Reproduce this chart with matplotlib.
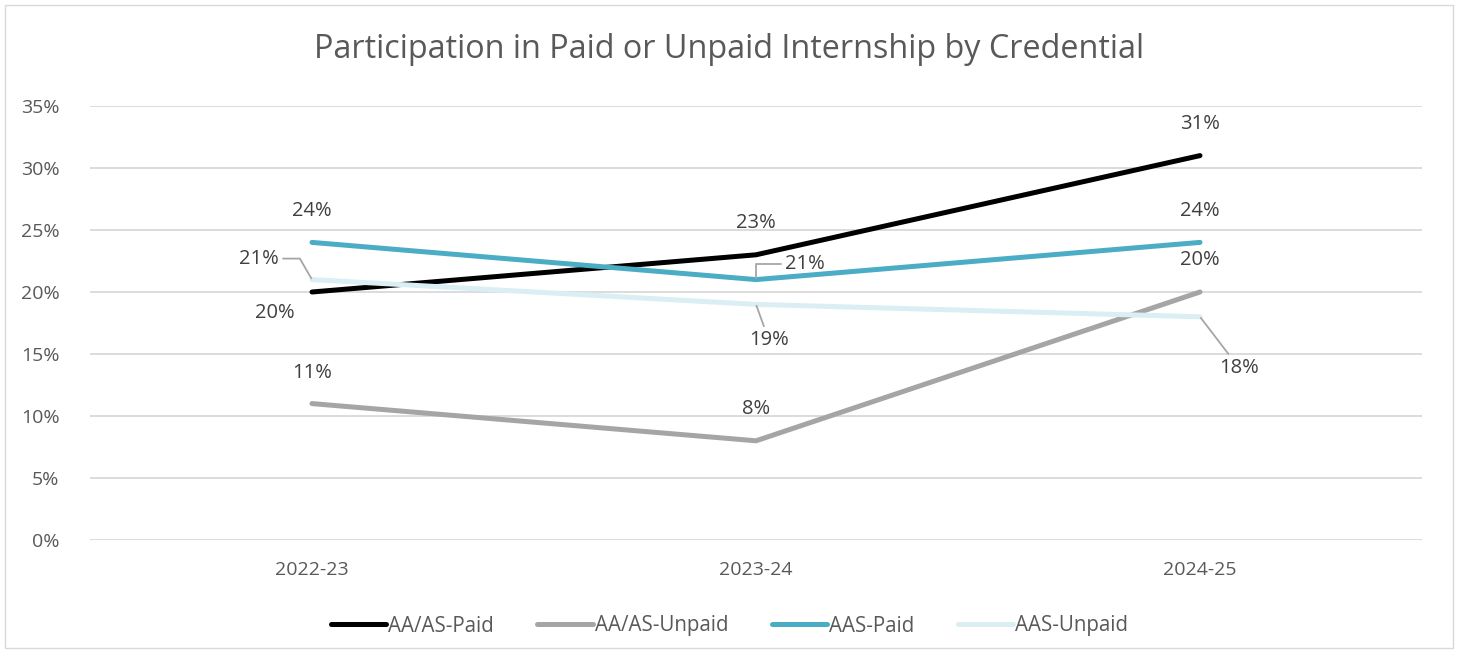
import matplotlib
matplotlib.use("Agg")
import matplotlib.pyplot as plt
import matplotlib.patches as mpatches
from matplotlib.ticker import MultipleLocator, FuncFormatter

# ── Data ─────────────────────────────────────────────────────────────────────
years = ["2022-23", "2023-24", "2024-25"]
aa_paid = [20, 23, 31]
aa_unpaid = [11, 8, 20]
aas_paid = [24, 21, 24]
aas_unpaid = [21, 19, 18]

series_names = ["AA/AS-Paid", "AA/AS-Unpaid", "AAS-Paid", "AAS-Unpaid"]
colors = ["#000000", "#A5A5A5", "#4BACC6", "#DAEEF3"]

# label offsets in pixels (dx, dy) and leader style per point
label_pos = {
    "AA/AS-Paid": [(-37, -21, None), (0, 32, None), (0, 32, None)],
    "AA/AS-Unpaid": [(0, 31, None), (0, 32, None), (0, 32, None)],
    "AAS-Paid": [(0, 31, None), (49, 16, "angle,angleA=0,angleB=90,rad=0"), (0, 31, None)],
    "AAS-Unpaid": [(-53, 21, "angle,angleA=0,angleB=120,rad=0"),
                   (13, -36, "arc3"), (39, -51, "arc3")],
}
# ─────────────────────────────────────────────────────────────────────────────

plt.rcParams["font.family"] = ["Open Sans", "DejaVu Sans"]

fig = plt.figure(figsize=(14.59, 6.53), dpi=100)
ax = fig.add_axes([90 / 1459, 1 - 540 / 653, (1422 - 90) / 1459, (540 - 106) / 653])

x = list(range(len(years)))
all_vals = [aa_paid, aa_unpaid, aas_paid, aas_unpaid]
for name, vals, col in zip(series_names, all_vals, colors):
    ax.plot(x, vals, color=col, lw=3.6, label=name, solid_capstyle="round", zorder=3)
    for i, v in enumerate(vals):
        dx, dy, leader = label_pos[name][i]
        kw = {}
        if leader:
            kw["arrowprops"] = dict(arrowstyle="-", color="#A6A6A6", lw=1.3,
                                    connectionstyle=leader, shrinkA=1, shrinkB=1)
        ax.annotate(f"{v}%", (i, v), xytext=(dx, dy), textcoords="offset pixels",
                    ha="center", va="center", fontsize=14.5, color="#404040",
                    zorder=4, **kw)

ax.set_xlim(-0.5, 2.5)
ax.set_ylim(0, 35)
ax.yaxis.set_major_locator(MultipleLocator(5))
ax.yaxis.set_major_formatter(FuncFormatter(lambda v, p: f"{v:.0f}%"))
ax.set_xticks(x)
ax.set_xticklabels(years)
ax.tick_params(axis="both", length=0, labelsize=14, labelcolor="#595959")
ax.tick_params(axis="y", pad=22)
ax.tick_params(axis="x", pad=15)
ax.grid(axis="y", color="#D9D9D9", lw=1.3)
ax.set_axisbelow(True)
for s in ax.spines.values():
    s.set_visible(False)

fig.text(0.5, 1 - 50 / 653, "Participation in Paid or Unpaid Internship by Credential",
         ha="center", va="center", fontsize=23.3, color="#595959")

ax.legend(loc="center", bbox_to_anchor=(0.5, 27 / 653), bbox_transform=fig.transFigure,
          ncol=4, frameon=False, fontsize=14.8, handlelength=2.7, handletextpad=0.1,
          columnspacing=2.1, labelcolor="#595959")

fig.patches.append(mpatches.Rectangle((5 / 1459, 5 / 653), 1448 / 1459, 643 / 653,
                                      transform=fig.transFigure, fill=False,
                                      edgecolor="#D9D9D9", lw=1.0))

fig.savefig("out.png", dpi=100)
